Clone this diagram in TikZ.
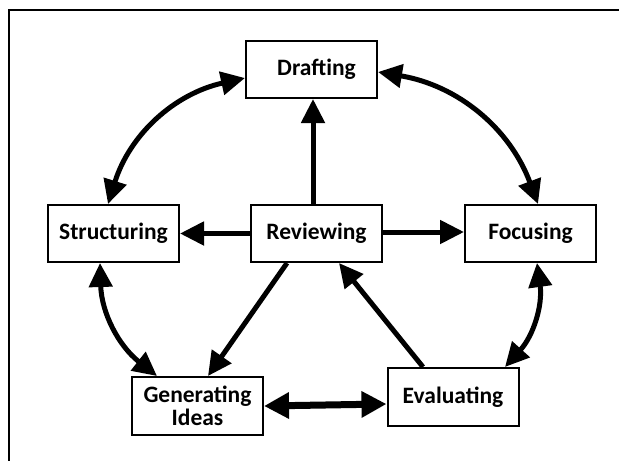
\documentclass[tikz,border=0pt]{standalone}
\usepackage{fontspec}
\setmainfont{Carlito}
\usetikzlibrary{arrows.meta}
\begin{document}
\begin{tikzpicture}[x=1pt,y=1pt,
  box/.style={draw,line width=2pt,minimum width=131pt,minimum height=57pt,
    inner sep=0pt,align=center,font=\bfseries\fontsize{23.5}{23.5}\selectfont},
  arr/.style={line width=5pt,-{Triangle[length=24pt,width=23pt]}},
  darr/.style={line width=5pt,{Triangle[length=24pt,width=23pt]}-{Triangle[length=24pt,width=23pt]}},
  warr/.style={line width=7pt,{Triangle[length=25pt,width=25pt]}-{Triangle[length=25pt,width=25pt]}}]
\useasboundingbox (0,0) rectangle (619,-461);
\fill[white] (0,0) rectangle (619,-461);
\draw[line width=2pt] (619,-10) -- (9,-10) -- (9,-461);
\node[box] (draft) at (311.5,-69.5) {\hspace*{10pt}Drafting};
\node[box] (struct) at (113.5,-233.5) {Structuring};
\node[box] (rev) at (316.5,-233.5) {Reviewing};
\node[box] (focus) at (530.5,-233.5) {Focusing};
\node[box,minimum height=58pt] (gen) at (197.5,-406) {Generating\\Ideas};
\node[box,minimum height=58pt] (eval) at (453,-397) {Evaluating};
% straight arrows from Reviewing
\draw[arr] ([xshift=-3.5pt]rev.north) -- ([xshift=1.5pt]draft.south);
\draw[arr] (rev.west) -- (struct.east);
\draw[arr] ([yshift=1.5pt]rev.east) -- ([yshift=1.5pt]focus.west);
\draw[arr] ([xshift=-29.5pt]rev.south) -- ([xshift=10.5pt]gen.north);
\draw[arr] ([xshift=-30pt]eval.north) -- ([xshift=22.5pt]rev.south);
\draw[warr] (gen.east) -- ([yshift=-7pt]eval.west);
% curved double arrows
\draw[darr] ([yshift=-8.5pt]draft.west) to[bend right=30] ([xshift=-5.5pt]struct.north);
\draw[darr] ([yshift=-2.5pt]draft.east) to[bend left=30] ([xshift=7.5pt]focus.north);
\draw[darr] ([xshift=-13.5pt]struct.south) to[bend right=25] ([xshift=-40.5pt]gen.north);
\draw[darr] ([xshift=6.5pt]focus.south) to[bend left=25] ([xshift=52pt]eval.north);
\end{tikzpicture}
\end{document}
